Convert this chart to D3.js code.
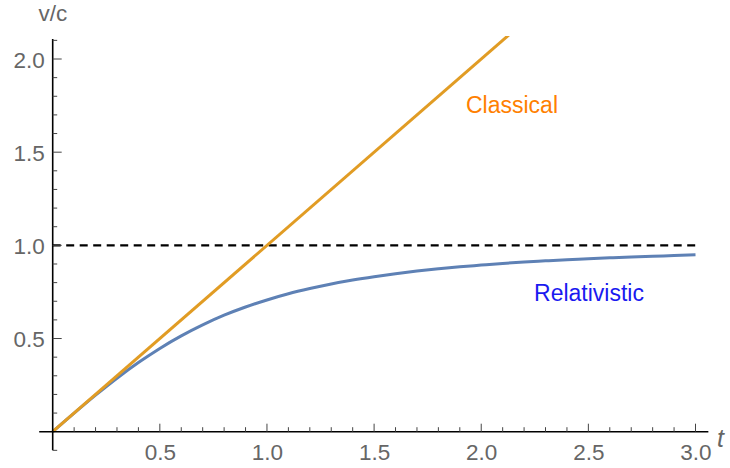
<!DOCTYPE html>
<html><head><meta charset="utf-8">
<script src="https://cdn.jsdelivr.net/npm/d3@7"></script>
<style>
body{margin:0;background:#fff;}
svg{display:block;font-family:"Liberation Sans",Arial,sans-serif;}
</style></head>
<body>
<svg id="c" width="730" height="468"></svg>
<script>
const tValues = [0,0.1,0.2,0.3,0.4,0.5,0.6,0.7,0.8,0.9,1.0,1.1,1.2,1.3,1.4,1.5,1.6,1.7,1.8,1.9,2.0,2.1,2.2,2.3,2.4,2.5,2.6,2.7,2.8,2.9,3.0];
const relativistic = [0,0.0995,0.196,0.287,0.371,0.447,0.514,0.573,0.625,0.669,0.707,0.740,0.768,0.793,0.814,0.832,0.848,0.862,0.874,0.885,0.894,0.903,0.911,0.917,0.923,0.928,0.933,0.938,0.942,0.945,0.949];
const classicalT = [0, 3.0];
const classical = [0, 3.0];
const limitT = [0, 3.0];
const limit = [1, 1];
const xTicks = [0.5,1.0,1.5,2.0,2.5,3.0];
const yTicks = [0.5,1.0,1.5,2.0];
const labels = ["Classical","Relativistic"];

const svg = d3.select("#c");
const x = d3.scaleLinear().domain([0,3]).range([52.7,695.5]);
const y = d3.scaleLinear().domain([0,2]).range([431.7,59]);
const xMin = -0.063, xMax = 3.06, yMin = -0.1, yMax = 2.107, clipTop = 2.123;

svg.append("defs").append("clipPath").attr("id","clip")
  .append("rect").attr("x",x(xMin)).attr("y",y(clipTop)).attr("width",x(xMax)-x(xMin)).attr("height",y(yMin)-y(clipTop));

const g = svg.append("g").attr("clip-path","url(#clip)");
const line = d3.line().x(d=>x(d[0])).y(d=>y(d[1]));

g.append("path").datum(limitT.map((t,i)=>[t,limit[i]]))
  .attr("d",line).attr("fill","none").attr("stroke","#000").attr("stroke-width",2.4)
  .attr("stroke-dasharray","8,5.5");
g.append("path").datum(tValues.map((t,i)=>[t,relativistic[i]]))
  .attr("d",d3.line().x(d=>x(d[0])).y(d=>y(d[1])).curve(d3.curveMonotoneX))
  .attr("fill","none").attr("stroke","#5E81B5").attr("stroke-width",3);
g.append("path").datum(classicalT.map((t,i)=>[t,classical[i]]))
  .attr("d",line).attr("fill","none").attr("stroke","#E19C24").attr("stroke-width",3);

const axG = svg.append("g");
axG.append("line").attr("x1",x(xMin)).attr("x2",x(xMax)).attr("y1",y(0)).attr("y2",y(0))
  .attr("stroke","#000").attr("stroke-width",1.6);
axG.append("line").attr("x1",x(0)).attr("x2",x(0)).attr("y1",y(yMin)).attr("y2",y(yMax))
  .attr("stroke","#000").attr("stroke-width",1.6);

const xMinor = d3.range(1,31).map(i=>i/10);
axG.selectAll(".xt").data(xMinor).enter().append("line")
  .attr("x1",d=>x(d)).attr("x2",d=>x(d)).attr("y1",y(0))
  .attr("y2",(d,i)=>y(0)-(((i+1)%5===0)?8:4.5))
  .attr("stroke","#444").attr("stroke-width",1);
const yMinor = d3.range(-1,22).filter(i=>i!==0).map(i=>i/10);
axG.selectAll(".yt").data(yMinor).enter().append("line")
  .attr("y1",d=>y(d)).attr("y2",d=>y(d)).attr("x1",x(0))
  .attr("x2",d=>x(0)+((Math.round(d*10)%5===0)?9:4.5))
  .attr("stroke","#444").attr("stroke-width",1);

const xl = svg.append("g").attr("transform",`translate(0,${y(0)})`)
  .call(d3.axisBottom(x).tickValues(xTicks).tickSize(0).tickPadding(0).tickFormat(d3.format(".1f")));
xl.select(".domain").remove();
xl.selectAll("text").attr("fill","#666").attr("font-size",22.5)
  .attr("font-family","Liberation Sans, Arial, sans-serif").attr("dy",null).attr("y",28.5);
const yl = svg.append("g").attr("transform",`translate(${x(0)},0)`)
  .call(d3.axisLeft(y).tickValues(yTicks).tickSize(0).tickPadding(8).tickFormat(d3.format(".1f")));
yl.select(".domain").remove();
yl.selectAll("text").attr("fill","#666").attr("font-size",22.5)
  .attr("font-family","Liberation Sans, Arial, sans-serif").attr("dy","0.36em");

svg.append("text").attr("x",717).attr("y",447).attr("font-size",25).attr("font-style","italic")
  .attr("fill","#666").text("t");
svg.append("text").attr("x",53).attr("y",21).attr("text-anchor","middle").attr("font-size",22.5)
  .attr("fill","#666").text("v/c");

svg.append("text").attr("x",512).attr("y",113).attr("text-anchor","middle").attr("font-size",23)
  .attr("fill","#FF8000").text(labels[0]);
svg.append("text").attr("x",589).attr("y",301).attr("text-anchor","middle").attr("font-size",23)
  .attr("fill","#1A1AF0").text(labels[1]);
</script>
</body></html>
